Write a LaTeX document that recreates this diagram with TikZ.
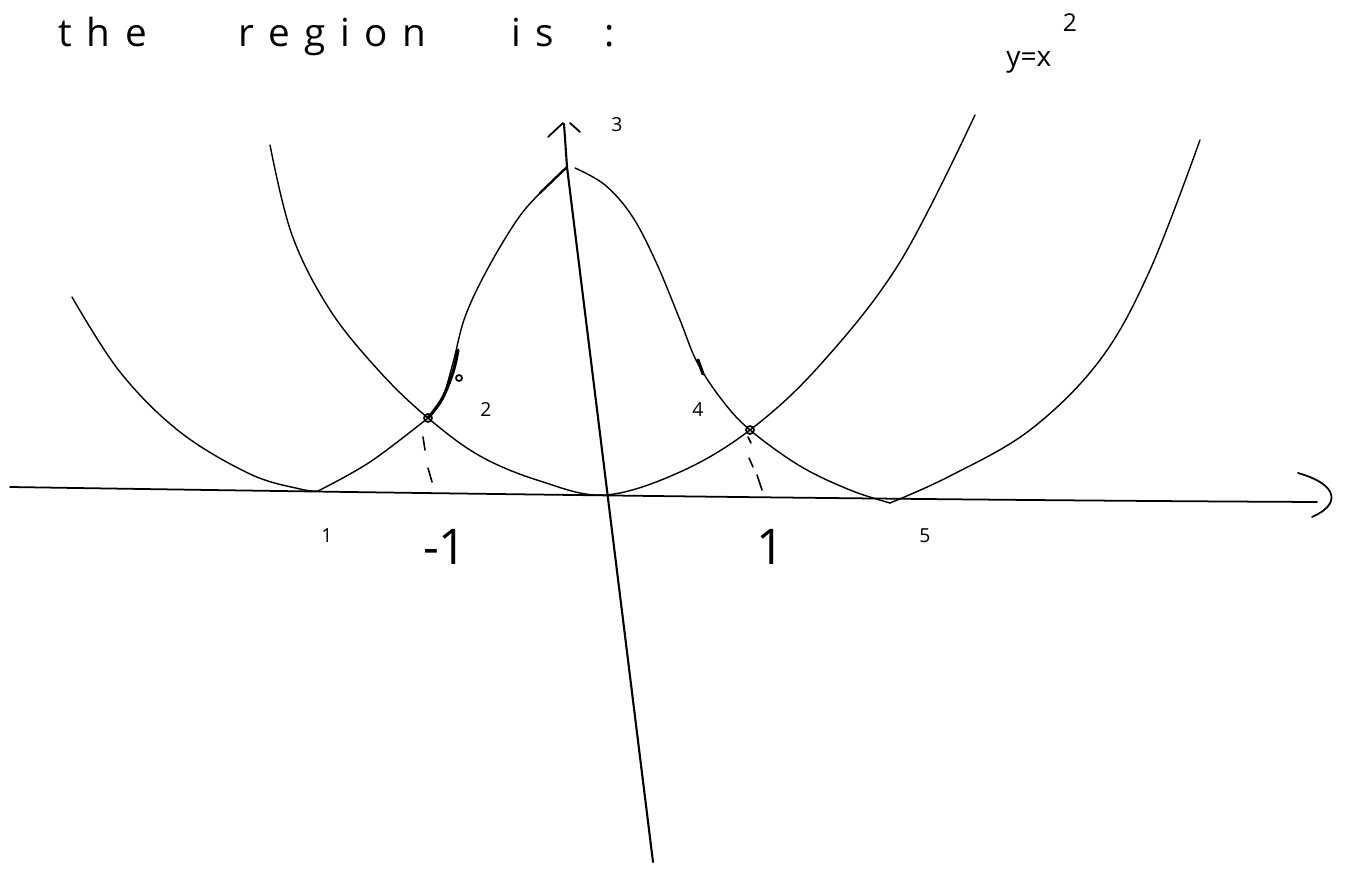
\documentclass[tikz,border=0pt]{standalone}
\usepackage{fontspec}
\setmainfont{Open Sans}
\begin{document}
\begin{tikzpicture}[x=0.02cm,y=-0.02cm, line cap=round, line join=round,
  curve/.style={line width=0.8pt},
  axisline/.style={line width=1pt},
  thick region/.style={line width=1.8pt},
  head/.style={anchor=base west, inner sep=0, font=\fontsize{22}{24}\selectfont\addfontfeature{LetterSpace=38}},
  small/.style={inner sep=0, font=\fontsize{11}{12}\selectfont},
  big/.style={inner sep=0, font=\fontsize{28}{30}\selectfont},
  guide/.style={line width=0.9pt},
  dot/.style={line width=1pt}]
\useasboundingbox (0,0) rectangle (1350,891);

% heading
\node[head] (w1) at (58,47) {the};
\node[head] (w2) at (238,47) {region};
\node[head] (w3) at (511,47) {is};
\node[head] (w4) at (604,47) {:};

% y = x^2 label
\node[anchor=base west, inner sep=0, font=\fontsize{16}{18}\selectfont] (eq) at (1006,67) {y=x};
\node[inner sep=0, font=\fontsize{14}{16}\selectfont] (sq) at (1070,23) {2};

% key points
\coordinate (A) at (318,491);   % left vertex
\coordinate (P) at (428,418);   % left intersection
\coordinate (T) at (567,167);   % top
\coordinate (Q) at (750,430);   % right intersection
\coordinate (B) at (890,503);   % right vertex
\coordinate (O) at (605,495);   % origin vertex

% x axis with bracket end
\coordinate (xl) at (10,487);
\coordinate (xr) at (1317,502);
\draw[axisline] (xl) .. controls (400,493) and (900,500) .. (xr);
\draw[axisline] (1298,473) .. controls (1340,485) and (1340,505) .. (1312,517);

% y axis
\coordinate (yt) at (564,124);
\coordinate (yb) at (653,862);
\draw[line width=1.2pt] (yt) -- (T) -- (yb);
\draw[axisline] (548,137) -- (563,123);
\draw[axisline] (570,123) -- (580,132);

% left outer parabola
\draw[curve] plot[smooth, tension=0.6] coordinates {(72,297) (120,372) (180,432) (250,474) (300,489) (A)};
\draw[curve] plot[smooth, tension=0.6] coordinates {(A) (370,462) (P)};

% middle parabola y = x^2
\draw[curve] plot[smooth, tension=0.6] coordinates {(270,145) (292,235) (330,310) (380,372) (P) (480,456) (540,481) (O) (680,472) (Q) (820,365) (900,262) (975,115)};

% central bump (region boundary)
\draw[thick region] plot[smooth, tension=0.6] coordinates {(P) (442,399) (453,372) (458,350)};
\draw[curve] plot[smooth, tension=0.6] coordinates {(P) (442,399) (453,363) (465,317) (487,270) (517,220) (540,193) (T)};
\draw[line width=1.3pt] (540,193) -- (T);
\draw[curve] plot[smooth, tension=0.6] coordinates {(575,168) (605,185) (632,216) (656,262) (680,320) (697,362) (722,400) (Q) (800,466) (850,490) (B)};
\draw[thick region] (698,360) -- (703,374);

% right outer parabola
\draw[curve] plot[smooth, tension=0.6] coordinates {(B) (950,476) (1030,430) (1100,360) (1150,270) (1200,140)};

% dashed drop lines
\draw[guide] (423,437) -- (425,450);
\draw[guide] (428,468) -- (432,482);
\draw[guide] (748,437) -- (751,443);
\draw[guide] (749,458) -- (753,467);
\draw[guide] (757,475) -- (762,490);

% small marks
\draw[dot] (P) circle[radius=4];
\draw[dot] (Q) circle[radius=4];
\draw[dot] (459,378) circle[radius=3];

% labels
\node[small] (l3) at (617,125) {3};
\node[small] (l2) at (486,410) {2};
\node[small] (l4) at (698,410) {4};
\node[small] (l1) at (327,536) {1};
\node[small] (l5) at (925,536) {5};
\node[big] (m1) at (445,547) {-1};
\node[big] (p1) at (771,547) {1};
\end{tikzpicture}
\end{document}
